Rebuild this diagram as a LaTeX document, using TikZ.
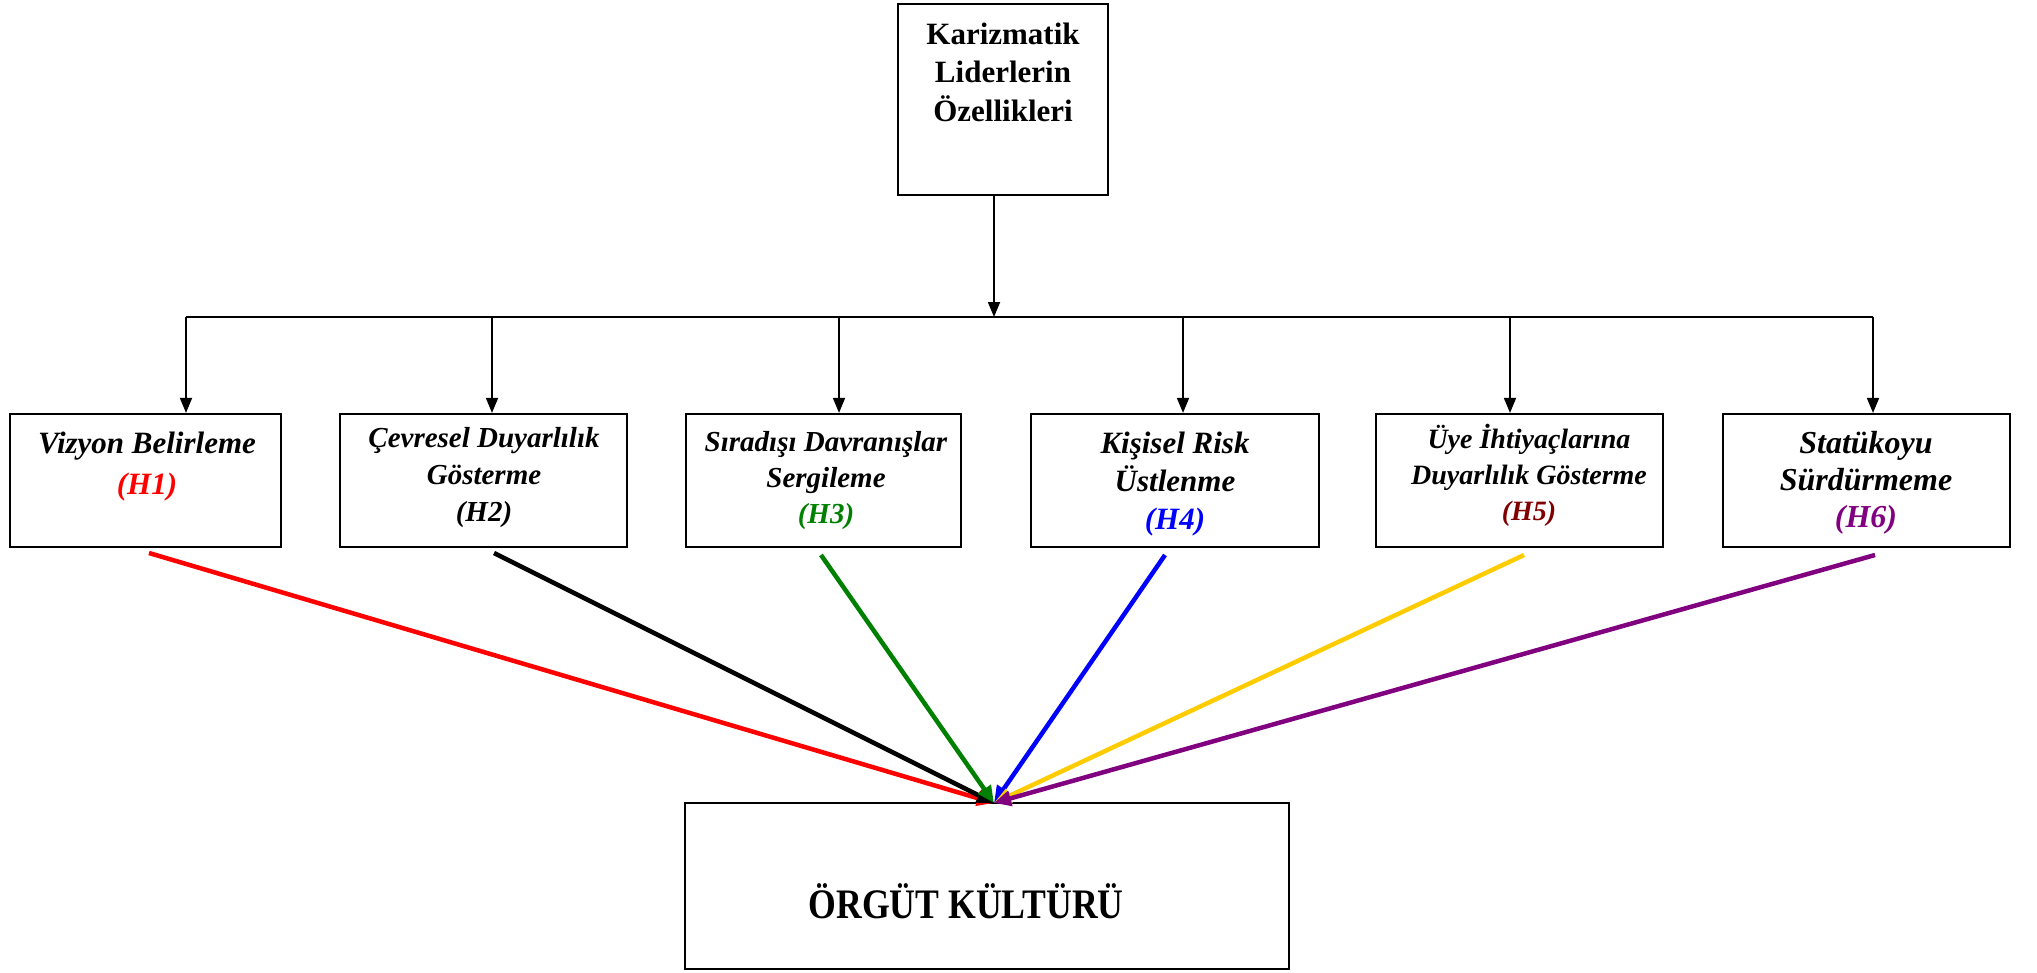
\documentclass[tikz,border=0pt]{standalone}
\usepackage{fontspec}
\setmainfont{Liberation Serif}
\newfontfamily\kulturfont[FakeStretch=0.85]{Liberation Serif}
\usetikzlibrary{arrows.meta}
\definecolor{hred}{RGB}{255,0,0}
\definecolor{hgreen}{RGB}{0,128,0}
\definecolor{hblue}{RGB}{0,0,255}
\definecolor{hgold}{RGB}{255,204,0}
\definecolor{hmaroon}{RGB}{128,0,0}
\definecolor{hpurple}{RGB}{128,0,128}
\begin{document}
\begin{tikzpicture}[x=1pt,y=-1pt,
  box/.style={draw=black, line width=2.2pt, minimum height=133pt, inner sep=0pt},
  lbl/.style={align=center, inner sep=0pt, anchor=north},
  link/.style={line width=1.8pt, -{Triangle[length=15pt,width=12pt]}},
  infl/.style={line width=4.5pt, -{Triangle[length=17pt,width=15pt]}}]
\useasboundingbox (0,0) rectangle (2037,972);

% leader box
\node[draw=black, line width=2.2pt, minimum width=210pt, minimum height=191pt, inner sep=0pt] (top) at (1003,99.5) {};
\node[lbl, font=\fontsize{31}{38.5}\selectfont\bfseries] (toptxt) at (1003,13)
  {\rule{0pt}{31pt}Karizmatik\\Liderlerin\\Özellikleri};

% the six characteristics
\node[box, minimum width=271pt] (b1) at (145.5,480.5) {};
\node[box, minimum width=287pt] (b2) at (483.5,480.5) {};
\node[box, minimum width=275pt] (b3) at (823.5,480.5) {};
\node[box, minimum width=288pt] (b4) at (1175,480.5) {};
\node[box, minimum width=287pt] (b5) at (1519.5,480.5) {};
\node[box, minimum width=287pt] (b6) at (1866.5,480.5) {};

\node[lbl, font=\fontsize{31}{41}\selectfont\bfseries\itshape] (t1) at (147,422)
  {\rule{0pt}{31pt}Vizyon Belirleme\\\textcolor{hred}{(H1)}};
\node[lbl, font=\fontsize{29}{37}\selectfont\bfseries\itshape] (t2) at (484,418)
  {\rule{0pt}{29pt}Çevresel Duyarlılık\\Gösterme\\(H2)};
\node[lbl, font=\fontsize{29}{36}\selectfont\bfseries\itshape] (t3) at (826,422)
  {\rule{0pt}{29pt}Sıradışı Davranışlar\\Sergileme\\\textcolor{hgreen}{(H3)}};
\node[lbl, font=\fontsize{31}{38}\selectfont\bfseries\itshape] (t4) at (1175,422)
  {\rule{0pt}{31pt}Kişisel Risk\\Üstlenme\\\textcolor{hblue}{(H4)}};
\node[lbl, font=\fontsize{28}{36}\selectfont\bfseries\itshape] (t5) at (1529,420)
  {\rule{0pt}{28pt}Üye İhtiyaçlarına\\Duyarlılık Gösterme\\\textcolor{hmaroon}{(H5)}};
\node[lbl, font=\fontsize{32}{37}\selectfont\bfseries\itshape] (t6) at (1866,421)
  {\rule{0pt}{32pt}Statükoyu\\Sürdürmeme\\\textcolor{hpurple}{(H6)}};

% outcome box
\node[draw=black, line width=2.2pt, minimum width=604pt, minimum height=166pt, inner sep=0pt] (k) at (987,886) {};
\node[inner sep=0pt, anchor=base, font=\fontsize{42}{48}\selectfont\kulturfont\bfseries] (ktxt) at (966,918) {ÖRGÜT KÜLTÜRÜ};

% distribution tree
\coordinate (src) at (994,195);
\coordinate (hub) at (994,317);
\coordinate (hl) at (186,317);
\coordinate (hr) at (1873,317);
\coordinate (d1) at (186,317);
\coordinate (d2) at (492,317);
\coordinate (d3) at (839,317);
\coordinate (d4) at (1183,317);
\coordinate (d5) at (1510,317);
\coordinate (d6) at (1873,317);
\draw[link] (src) -- (hub);
\draw[line width=1.8pt] (hl) -- (hr);
\foreach \i in {1,...,6} {
  \draw[link] (d\i) -- (d\i |- b\i.north);
}

% influence arrows
\coordinate (tip) at (994,803);
\coordinate (s1) at (149,553);
\coordinate (s2) at (494,553);
\coordinate (s3) at (821,555);
\coordinate (s4) at (1165,555);
\coordinate (s5) at (1524,555);
\coordinate (s6) at (1875,555);
\draw[infl, hred] (s1) -- (tip);
\draw[infl, black] (s2) -- (tip);
\draw[infl, hgreen] (s3) -- (tip);
\draw[infl, hblue] (s4) -- (tip);
\draw[infl, hgold] (s5) -- (tip);
\draw[infl, hpurple] (s6) -- (tip);
\end{tikzpicture}
\end{document}
